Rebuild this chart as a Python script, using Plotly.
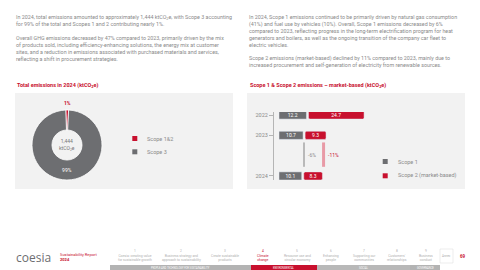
import plotly.graph_objects as go

# ---------------- data ----------------
pie_labels = ["Scope 1&2", "Scope 3"]
pie_values = [18.4, 1425.6]          # ktCO2e (≈1% / 99%)
total_label = "1,444"

years = ["2022", "2023", "2024"]
scope1 = [12.2, 10.7, 10.1]
scope2 = [24.7, 9.3, 8.3]
change_s1 = "-6%"
change_s2 = "-11%"

left_text = [
    "In 2024, total emissions amounted to approximately 1,444 ktCO<sub>2</sub>e, with Scope 3 accounting<br>"
    "for 99% of the total and Scopes 1 and 2 contributing nearly 1%.",
    "Overall GHG emissions decreased by 47% compared to 2023, primarily driven by the mix<br>"
    "of products sold, including efficiency-enhancing solutions, the energy mix at customer<br>"
    "sites, and a reduction in emissions associated with purchased materials and services,<br>"
    "reflecting a shift in procurement strategies.",
]
right_text = [
    "In 2024, Scope 1 emissions continued to be primarily driven by natural gas consumption<br>"
    "(41%) and fuel use by vehicles (10%). Overall, Scope 1 emissions decreased by 6%<br>"
    "compared to 2023, reflecting progress in the long-term electrification program for heat<br>"
    "generators and boilers, as well as the ongoing transition of the company car fleet to<br>"
    "electric vehicles.",
    "Scope 2 emissions (market-based) declined by 11% compared to 2023, mainly due to<br>"
    "increased procurement and self-generation of electricity from renewable sources.",
]

nav_items = [
    "Coesia: creating value<br>for sustainable growth",
    "Business strategy and<br>approach to sustainability",
    "Create sustainable<br>products",
    "Climate<br>change",
    "Resource use and<br>circular economy",
    "Enhancing<br>people",
    "Supporting our<br>communities",
    "Customers'<br>relationships",
    "Business<br>conduct",
]
sections = ["PEOPLE AND TECHNOLOGY FOR SUSTAINABILITY", "ENVIRONMENTAL", "SOCIAL", "GOVERNANCE"]

# ---------------- style ----------------
RED = "#c8102e"
GRAY = "#6d6e71"
TXT = "#8a8a8a"
PANEL = "#f2f2f2"
FONT = "Roboto"
W, H = 480, 270


def px(x):
    return x / W


def py(y):
    return 1 - y / H


fig = go.Figure()

# ---------------- pie ----------------
pie_total = sum(pie_values)
pct = [f"{round(100 * v / pie_total)}%" for v in pie_values]
fig.add_trace(go.Pie(
    labels=pie_labels, values=pie_values, hole=0.43, sort=False,
    direction="clockwise", rotation=-2,
    marker=dict(colors=[RED, GRAY], line=dict(color="white", width=0.8)),
    text=["", pct[1]], textinfo="text", textposition="inside",
    insidetextorientation="horizontal",
    textfont=dict(size=5, family=FONT, color="white"),
    domain=dict(x=[px(32), px(102)], y=[py(180), py(110)]),
    showlegend=False, hoverinfo="skip",
))

# ---------------- bars ----------------
GAP = 0.9
base2 = [a + GAP for a in scope1]
fig.add_trace(go.Bar(
    y=years, x=scope1, orientation="h", marker=dict(color=GRAY, cornerradius=1.5),
    width=0.4, text=[f"{v:.1f}" for v in scope1], textposition="inside", insidetextanchor="middle",
    constraintext="none", textangle=0, textfont=dict(size=5, color="white", family=FONT), showlegend=False,
    xaxis="x", yaxis="y", cliponaxis=False,
))
fig.add_trace(go.Bar(
    y=years, x=scope2, base=base2, orientation="h", marker=dict(color=RED, cornerradius=1.5),
    width=0.4, text=[f"{v:.1f}" for v in scope2], textposition="inside", insidetextanchor="middle",
    constraintext="none", textangle=0, textfont=dict(size=5, color="white", family=FONT), showlegend=False,
    xaxis="x", yaxis="y", cliponaxis=False,
))

shapes = []
annotations = []

# panels
shapes.append(dict(type="rect", xref="paper", yref="paper", x0=px(15), x1=px(233), y0=py(189), y1=py(93),
                   fillcolor=PANEL, line=dict(width=0), layer="below"))
shapes.append(dict(type="rect", xref="paper", yref="paper", x0=px(247), x1=px(465), y0=py(189), y1=py(93),
                   fillcolor=PANEL, line=dict(width=0), layer="below"))

# change brackets between 2023 and 2024
x_s1 = scope1[2] + 1.0
x_s2 = base2[2] + scope2[2] + 0.5
shapes.append(dict(type="line", xref="x", yref="y", x0=x_s1, x1=x_s1, y0=0.45, y1=1.65,
                   line=dict(color="#b9b9b9", width=2)))
shapes.append(dict(type="line", xref="x", yref="y", x0=x_s2, x1=x_s2, y0=0.45, y1=1.65,
                   line=dict(color="#e89aa6", width=3)))
annotations.append(dict(xref="x", yref="y", x=x_s1 + 0.9, y=1.05, text=change_s1, showarrow=False,
                        xanchor="left", font=dict(size=5, color=TXT, family=FONT)))
annotations.append(dict(xref="x", yref="y", x=x_s2 + 1.0, y=1.05, text=change_s2, showarrow=False,
                        xanchor="left", font=dict(size=5, color=RED, family=FONT)))

# titles
annotations.append(dict(xref="paper", yref="paper", x=px(15), y=py(85.5), xanchor="left", yanchor="middle",
                        text="<b>Total emissions in 2024 (ktCO<sub>2</sub>e)</b>", showarrow=False,
                        font=dict(size=5.5, color=RED, family=FONT)))
annotations.append(dict(xref="paper", yref="paper", x=px(248), y=py(85.5), xanchor="left", yanchor="middle",
                        text="<b>Scope 1 & Scope 2 emissions – market-based (ktCO<sub>2</sub>e)</b>", showarrow=False,
                        font=dict(size=5.5, color=RED, family=FONT)))

# body text
for txt, y in zip(left_text, [12.3, 33.3]):
    annotations.append(dict(xref="paper", yref="paper", x=px(14), y=py(y), xanchor="left", yanchor="top",
                            align="left", text=txt, showarrow=False, font=dict(size=5.35, color=TXT, family=FONT)))
for txt, y in zip(right_text, [12.3, 53.0]):
    annotations.append(dict(xref="paper", yref="paper", x=px(247), y=py(y), xanchor="left", yanchor="top",
                            align="left", text=txt, showarrow=False, font=dict(size=5.35, color=TXT, family=FONT)))

# donut labels
annotations.append(dict(xref="paper", yref="paper", x=px(67), y=py(145), xanchor="center", yanchor="middle",
                        text=total_label + "<br>ktCO<sub>2</sub>e", showarrow=False,
                        font=dict(size=5, color="#777777", family=FONT)))
annotations.append(dict(xref="paper", yref="paper", x=px(67), y=py(103), xanchor="center", yanchor="middle",
                        text="<b>" + pct[0] + "</b>", showarrow=False,
                        font=dict(size=5, color=RED, family=FONT)))

# legends (manual small squares)
def legend_item(x, y, color, label):
    shapes.append(dict(type="rect", xref="paper", yref="paper", x0=px(x), x1=px(x + 5), y0=py(y + 2.5),
                       y1=py(y - 2.5), fillcolor=color, line=dict(width=0)))
    annotations.append(dict(xref="paper", yref="paper", x=px(x + 13), y=py(y), xanchor="left", yanchor="middle",
                            text=label, showarrow=False, font=dict(size=5.5, color=TXT, family=FONT)))


legend_item(132.3, 138.5, RED, pie_labels[0])
legend_item(132.3, 151.8, GRAY, pie_labels[1])
legend_item(382.7, 161.5, GRAY, "Scope 1")
legend_item(382.7, 175.8, RED, "Scope 2 (market-based)")

# ---------------- footer ----------------
annotations.append(dict(xref="paper", yref="paper", x=px(14), y=py(257.5), xanchor="left", yanchor="middle",
                        text="coesia", showarrow=False, font=dict(size=12, color=GRAY, family="Open Sans")))
annotations.append(dict(xref="paper", yref="paper", x=px(58), y=py(256.5), xanchor="left", yanchor="middle",
                        text="Sustainability Report<br><b>2024</b>", align="left", showarrow=False,
                        font=dict(size=4, color=RED, family=FONT)))

nav_x = [135, 181, 225, 263, 297, 331, 364, 397, 426]
for i, (t, x) in enumerate(zip(nav_items, nav_x)):
    col = RED if i == 3 else "#b0b0b0"
    annotations.append(dict(xref="paper", yref="paper", x=px(x), y=py(251), xanchor="center", yanchor="middle",
                            text=str(i + 1), showarrow=False, font=dict(size=3.2, color=col, family=FONT)))
    annotations.append(dict(xref="paper", yref="paper", x=px(x), y=py(257.5), xanchor="center", yanchor="middle",
                            text=t, showarrow=False, font=dict(size=3.4, color=col, family=FONT)))

# annex box + page number
shapes.append(dict(type="rect", xref="paper", yref="paper", x0=px(440), x1=px(453), y0=py(263), y1=py(249),
                   fillcolor="rgba(0,0,0,0)", line=dict(color="#e0e0e0", width=0.6)))
annotations.append(dict(xref="paper", yref="paper", x=px(446.5), y=py(256), xanchor="center", yanchor="middle",
                        text="Annex", showarrow=False, font=dict(size=3, color="#b0b0b0", family=FONT)))
annotations.append(dict(xref="paper", yref="paper", x=px(463), y=py(256.5), xanchor="center", yanchor="middle",
                        text="<b>69</b>", showarrow=False, font=dict(size=4.5, color=RED, family=FONT)))

# section bar
sec_spans = [(110, 251, "#b3b3b3"), (251, 317, RED), (317, 410, "#b8b8b8"), (410, 440, "#b3b3b3")]
for (x0, x1, c), name in zip(sec_spans, sections):
    shapes.append(dict(type="rect", xref="paper", yref="paper", x0=px(x0), x1=px(x1), y0=py(270), y1=py(265),
                       fillcolor=c, line=dict(width=0)))
    annotations.append(dict(xref="paper", yref="paper", x=px((x0 + x1) / 2), y=py(267.5), xanchor="center",
                            yanchor="middle", text=name, showarrow=False,
                            font=dict(size=2.6, color="white", family=FONT)))

fig.update_layout(
    width=W, height=H, margin=dict(l=0, r=0, t=0, b=0),
    paper_bgcolor="white", plot_bgcolor="rgba(0,0,0,0)",
    barmode="overlay", showlegend=False,
    uniformtext=dict(minsize=0, mode=False),
    xaxis=dict(domain=[px(274), px(464)], range=[-2.22, 82.2], visible=False, fixedrange=True),
    yaxis=dict(domain=[py(180), py(112)], type="category", categoryorder="array",
               categoryarray=["2024", " ", "2023", "2022"], range=[-0.2, 3.15],
               tickmode="array", tickvals=years, ticktext=years,
               showline=True, linecolor="#b5b5b5", linewidth=1, ticks="outside", ticklen=4,
               tickcolor="#b5b5b5", showgrid=False, zeroline=False,
               tickfont=dict(size=5.5, color=TXT, family=FONT), anchor="x"),
    shapes=shapes, annotations=annotations,
    font=dict(family=FONT),
)

fig.write_html("out.html")
